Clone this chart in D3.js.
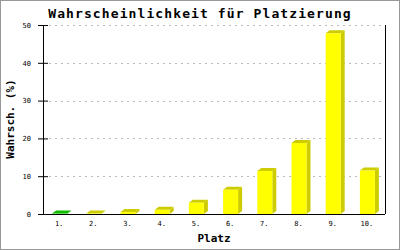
<!DOCTYPE html>
<html>
<head>
<meta charset="utf-8">
<script src="https://cdn.jsdelivr.net/npm/d3@7"></script>
<style>
  body { margin: 0; background: #fff; }
  svg text { font-family: "DejaVu Sans Mono", monospace; }
</style>
</head>
<body>
<script>
var places = ["1.", "2.", "3.", "4.", "5.", "6.", "7.", "8.", "9.", "10."];
var probs = [0.1, 0.1, 0.5, 1.1, 3.0, 6.4, 11.4, 18.8, 47.8, 11.5];
var barColors = ["#22dd11", "#ffff00", "#ffff00", "#ffff00", "#ffff00", "#ffff00", "#ffff00", "#ffff00", "#ffff00", "#ffff00"];
var shadeColors = ["#11bb00", "#cccc00", "#cccc00", "#cccc00", "#cccc00", "#cccc00", "#cccc00", "#cccc00", "#cccc00", "#cccc00"];
var yTicks = [0, 10, 20, 30, 40, 50];

var svgWidth = 400;
var svgHeight = 250;
var margin = { top: 25, right: 15, bottom: 36, left: 43 };
var chartWidth = svgWidth - margin.left - margin.right;
var chartHeight = svgHeight - margin.top - margin.bottom;
var depthX = 4, depthY = 3, barW = 15;

var svg = d3.select("body")
    .append("svg")
    .attr("width", svgWidth)
    .attr("height", svgHeight);

// outer frame
svg.append("rect")
    .attr("x", 0.5).attr("y", 0.5)
    .attr("width", svgWidth - 1).attr("height", svgHeight - 1)
    .attr("fill", "#fff")
    .attr("stroke", "#999");

var chartGroup = svg.append("g")
    .attr("transform", `translate(${margin.left}, ${margin.top})`);

var xScale = d3.scaleBand()
    .domain(places)
    .range([0, chartWidth])
    .padding(0);

var yScale = d3.scaleLinear()
    .domain([0, 50])
    .range([chartHeight, 0]);

// grid
chartGroup.selectAll(".grid")
    .data(yTicks.filter(d => d > 0))
    .enter().append("line")
    .attr("x1", 6).attr("x2", chartWidth)
    .attr("y1", d => Math.round(yScale(d)) + 0.5)
    .attr("y2", d => Math.round(yScale(d)) + 0.5)
    .attr("stroke", "#bbb")
    .attr("stroke-dasharray", "2,4");

// bars
var bars = chartGroup.selectAll(".bar")
    .data(probs)
    .enter().append("g");

bars.append("polygon")
    .attr("points", function(d, i) {
        var x1 = xScale(places[i]) + xScale.bandwidth() / 2 - 8 + barW;
        var yt = yScale(d), y0 = yScale(0);
        return [[x1, yt], [x1 + depthX, yt - depthY], [x1 + depthX, y0 - depthY], [x1, y0]].join(" ");
    })
    .attr("fill", (d, i) => shadeColors[i]);

bars.append("polygon")
    .attr("points", function(d, i) {
        var x0 = xScale(places[i]) + xScale.bandwidth() / 2 - 8;
        var yt = yScale(d);
        return [[x0, yt], [x0 + depthX, yt - depthY], [x0 + barW + depthX, yt - depthY], [x0 + barW, yt]].join(" ");
    })
    .attr("fill", (d, i) => shadeColors[i]);

bars.append("rect")
    .attr("x", (d, i) => xScale(places[i]) + xScale.bandwidth() / 2 - 8)
    .attr("y", d => yScale(d))
    .attr("width", barW)
    .attr("height", d => yScale(0) - yScale(d))
    .attr("fill", (d, i) => barColors[i]);

// axes
var leftAxis = d3.axisLeft(yScale).tickValues(yTicks).tickSize(5).tickPadding(7);
var bottomAxis = d3.axisBottom(xScale).tickSize(0).tickPadding(7);

var yAxisG = chartGroup.append("g")
    .call(leftAxis);
yAxisG.selectAll(".tick line").attr("x1", 5).attr("stroke", "#000");
yAxisG.select(".domain").attr("d", `M0.5,0V${chartHeight}`).attr("stroke", "#000");
yAxisG.selectAll("text").attr("font-size", 7).attr("fill", "#000")
    .style("font-family", "DejaVu Sans Mono");

var xAxisG = chartGroup.append("g")
    .attr("transform", "translate(0, " + chartHeight + ")")
    .call(bottomAxis);
xAxisG.select(".domain").attr("d", `M0,0.5H${chartWidth}`).attr("stroke", "#000");
xAxisG.selectAll("text").attr("font-size", 7).attr("fill", "#000")
    .attr("dx", -1)
    .style("font-family", "DejaVu Sans Mono");

// right border of plot
chartGroup.append("line")
    .attr("x1", chartWidth + 0.5).attr("x2", chartWidth + 0.5)
    .attr("y1", 0).attr("y2", chartHeight)
    .attr("stroke", "#000");

// titles
svg.append("text")
    .attr("x", 200).attr("y", 18)
    .attr("text-anchor", "middle")
    .attr("font-size", 13).attr("font-weight", "bold")
    .attr("letter-spacing", 1.1)
    .text("Wahrscheinlichkeit für Platzierung");

svg.append("text")
    .attr("x", margin.left + chartWidth / 2).attr("y", 242)
    .attr("text-anchor", "middle")
    .attr("font-size", 11).attr("font-weight", "bold")
    .text("Platz");

svg.append("text")
    .attr("transform", "translate(14, 119) rotate(-90)")
    .attr("text-anchor", "middle")
    .attr("font-size", 11).attr("font-weight", "bold")
    .text("Wahrsch. (%)");
</script>
</body>
</html>
